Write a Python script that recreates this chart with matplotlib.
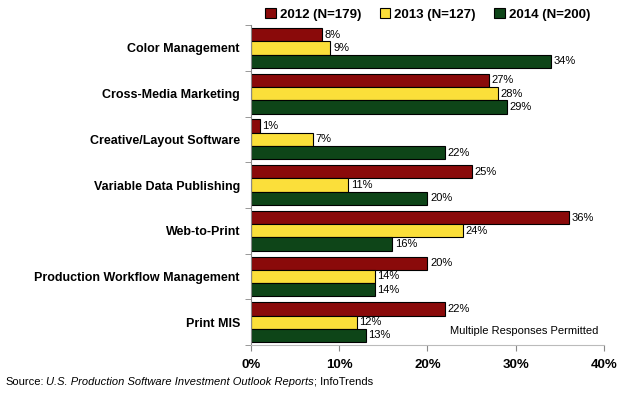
import numpy as np
import matplotlib.pyplot as plt

categories = ['Color Management', 'Cross-Media Marketing', 'Creative/Layout Software',
              'Variable Data Publishing', 'Web-to-Print', 'Production Workflow Management',
              'Print MIS']
series_names = ['2012 (N=179)', '2013 (N=127)', '2014 (N=200)']
v2012 = [8, 27, 1, 25, 36, 20, 22]
v2013 = [9, 28, 7, 11, 24, 14, 12]
v2014 = [34, 29, 22, 20, 16, 14, 13]
colors = ['#8a0a0a', '#fbdf3a', '#0e4518']
xticks = [0, 10, 20, 30, 40]

plt.rcParams['font.family'] = ['Liberation Sans', 'DejaVu Sans']

fig = plt.figure(figsize=(6.2, 3.98), dpi=100)
ax = fig.add_axes([0.405, 0.133, 0.569, 0.804])

n = len(categories)
ypos = np.arange(n)[::-1].astype(float)
h = 0.29
offsets = [h, 0, -h]
for vals, off, col, name in zip([v2012, v2013, v2014], offsets, colors, series_names):
    bars = ax.barh(ypos + off, vals, height=h, color=col, edgecolor='black',
                   linewidth=0.8, label=name)
    for b, v in zip(bars, vals):
        ax.text(b.get_width() + 0.3, b.get_y() + b.get_height() / 2, '%d%%' % v,
                va='center', ha='left', fontsize=8, color='black')

ax.set_xlim(0, 40)
ax.set_ylim(-0.5, n - 0.5)
ax.set_xticks(xticks)
ax.set_xticklabels(['%d%%' % t for t in xticks], fontsize=9.5, fontweight='bold')
ax.set_yticks(np.arange(n + 1) - 0.5, minor=True)
ax.set_yticks(ypos)
ax.set_yticklabels(categories, fontsize=9, fontweight='bold')
ax.tick_params(axis='y', which='major', length=0, pad=8)
ax.tick_params(axis='y', which='minor', length=4, color='#888888')
ax.tick_params(axis='x', length=4, color='#888888', pad=6)
for s in ['top', 'right']:
    ax.spines[s].set_visible(False)
ax.spines['left'].set_color('#888888')
ax.spines['bottom'].set_color('#bbbbbb')

leg = fig.legend(loc='upper center', bbox_to_anchor=(0.69, 1.01), ncol=3, frameon=False,
                 prop={'size': 9.5, 'weight': 'bold'}, handlelength=0.8, handleheight=0.8,
                 handletextpad=0.3, columnspacing=1.4)

ax.text(0.985, 0.045, 'Multiple Responses Permitted', transform=ax.transAxes,
        ha='right', va='center', fontsize=8)

# source line with italic title
fig.canvas.draw()
r = fig.canvas.get_renderer()
x0 = 5 / 620
y0 = 1 - 385 / 398
parts = [('Source:', 'normal'), ('U.S. Production Software Investment Outlook Reports', 'italic'),
         ('; InfoTrends', 'normal')]
for i, (txt, st) in enumerate(parts):
    t = fig.text(x0, y0, txt, fontsize=8, style=st, va='baseline', ha='left')
    bb = t.get_window_extent(renderer=r)
    x0 += bb.width / fig.bbox.width
    if i == 0:
        x0 += 3 / 620

fig.savefig('out.png', dpi=100)
